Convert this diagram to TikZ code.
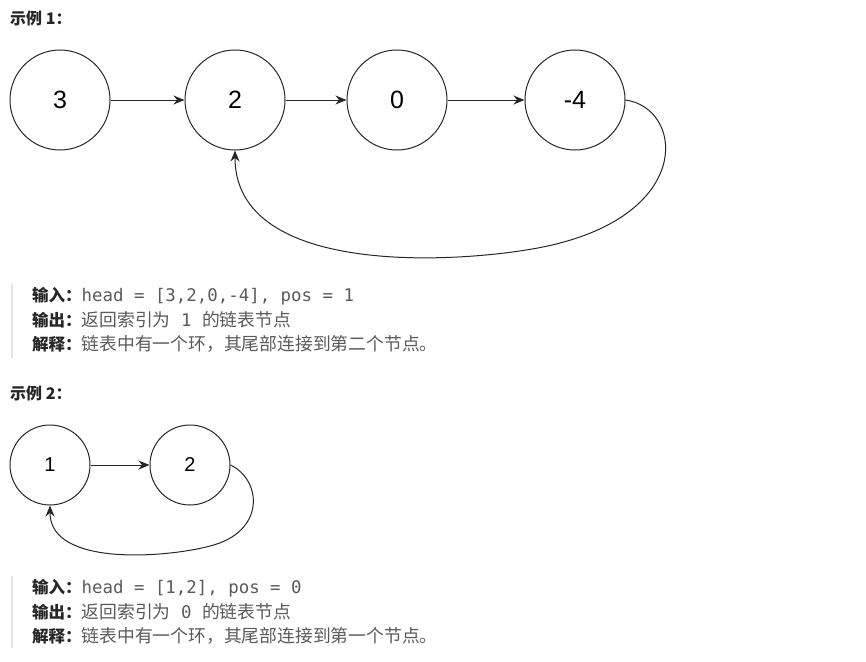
\documentclass[tikz,border=0pt]{standalone}
\usepackage{fontspec}
\setmainfont{Liberation Sans}
\newfontfamily\cjk{Noto Sans CJK SC}
\newfontfamily\mono{DejaVu Sans Mono}
\usetikzlibrary{arrows.meta}
\definecolor{lcLabel}{HTML}{262626}
\definecolor{lcText}{HTML}{5A5A5A}
\definecolor{lcBar}{HTML}{E3E3E3}
\definecolor{lcLine}{HTML}{262626}
\newcommand{\lab}[1]{{\color{lcLabel}\cjk\bfseries\fontsize{16.5}{16.5}\selectfont #1}}
\newcommand{\code}[1]{{\mono\fontsize{17.4}{17.4}\selectfont #1}}

\begin{document}
\begin{tikzpicture}[x=1pt,y=-1pt,
  listnode/.style={circle,draw=lcLine,line width=1pt,minimum size=100pt,inner sep=0pt,font=\fontsize{25}{25}\selectfont},
  smallnode/.style={listnode,minimum size=80pt,font=\fontsize{20}{20}\selectfont},
  link/.style={-{Stealth[length=11pt,width=9pt]},line width=1pt,lcLine},
  title/.style={anchor=west,inner sep=0pt,font=\cjk\bfseries\fontsize{16}{16}\selectfont,lcLabel},
  line/.style={anchor=west,inner sep=0pt,font=\cjk\fontsize{17.8}{17.8}\selectfont,lcText},
  bar/.style={lcBar,line width=2pt}]
\useasboundingbox (0,0) rectangle (866,661);
% example 1
\node[title] (t1) at (10,18) {示例 1：};
\node[listnode] (a3) at (60,100) {3};
\node[listnode] (a2) at (235,100) {2};
\node[listnode] (a0) at (397,100) {0};
\node[listnode] (a4) at (575,100) {-4};
\draw[link] (a3) -- (a2);
\draw[link] (a2) -- (a0);
\draw[link] (a0) -- (a4);
\draw[link] (a4.east) .. controls (682,108) and (694,208) .. (560,243)
  .. controls (500,260) and (235,288) .. (a2.south);
\draw[bar] (12,284) -- (12,358);
\node[line] (in1) at (32,296) {\lab{输入：}\code{head = [3,2,0,-4], pos = 1}};
\node[line] (out1) at (32,320) {\lab{输出：}返回索引为\code{ 1 }的链表节点};
\node[line] (ex1) at (32,344) {\lab{解释：}链表中有一个环，其尾部连接到第二个节点。};
% example 2
\node[title] (t2) at (10,393) {示例 2：};
\node[smallnode] (b1) at (50,465) {1};
\node[smallnode] (b2) at (190,465) {2};
\draw[link] (b1) -- (b2);
\draw[link] (b2.east) .. controls (262,480) and (266,532) .. (210,546)
  .. controls (170,557) and (50,568) .. (b1.south);
\draw[bar] (12,576) -- (12,648);
\node[line] (in2) at (32,588) {\lab{输入：}\code{head = [1,2], pos = 0}};
\node[line] (out2) at (32,612) {\lab{输出：}返回索引为\code{ 0 }的链表节点};
\node[line] (ex2) at (32,636) {\lab{解释：}链表中有一个环，其尾部连接到第一个节点。};
\end{tikzpicture}
\end{document}
